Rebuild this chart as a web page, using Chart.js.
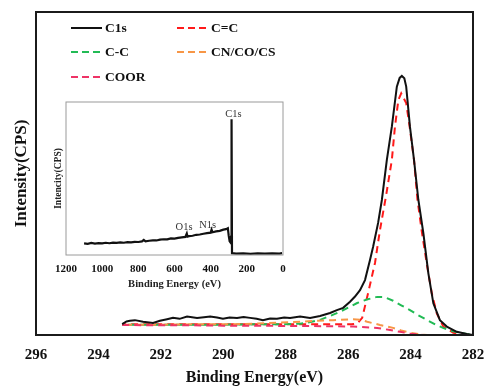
<!DOCTYPE html>
<html>
<head>
<meta charset="utf-8">
<script src="https://cdn.jsdelivr.net/npm/chart.js@4/dist/chart.umd.min.js"></script>
<style>
html,body{margin:0;padding:0;background:#fff}
#wrap{position:relative;width:488px;height:387px;overflow:hidden}
#main{position:absolute;left:0;top:0;width:488px;height:387px}
#inset{position:absolute;left:40px;top:95px;width:250px;height:200px}
#legend{position:absolute;left:0;top:0;font:bold 13.5px "Liberation Serif",serif;color:#111}
.li{position:absolute;display:flex;align-items:center;height:20px;white-space:nowrap}
.li svg{margin-right:2px}
</style>
</head>
<body>
<div id="wrap">
  <canvas id="main" width="488" height="387"></canvas>
  <canvas id="inset" width="250" height="200"></canvas>
  <div id="legend"></div>
</div>
<script>
// main C1s high-resolution spectrum, [binding energy, intensity]
const C1S = [[293.24,3.4],[293.10,4.2],[292.99,4.4],[292.83,4.6],[292.57,4.1],[292.25,3.7],[292.03,4.4],[291.80,4.9],[291.61,5.3],[291.40,5.0],[291.16,5.7],[290.84,5.3],[290.62,5.5],[290.42,5.7],[290.20,5.4],[290.01,5.0],[289.80,5.4],[289.56,5.3],[289.35,5.6],[289.14,5.3],[288.93,5.0],[288.73,4.6],[288.50,5.1],[288.28,5.0],[288.05,5.4],[287.86,5.3],[287.54,5.7],[287.22,5.3],[286.90,5.9],[286.58,6.8],[286.36,7.7],[286.16,8.4],[285.94,10.3],[285.78,11.9],[285.62,13.9],[285.46,17.0],[285.30,23.2],[285.20,27.3],[285.04,34.7],[284.92,41.8],[284.76,54.2],[284.60,64.5],[284.44,76.9],[284.35,79.6],[284.28,80.2],[284.20,79.5],[284.14,76.9],[284.02,64.5],[283.89,54.2],[283.75,41.8],[283.59,31.5],[283.43,19.1],[283.27,9.8],[283.06,4.6],[282.84,2.6],[282.52,1.0],[282.20,0.3],[282.00,0.0]];
const CC2 = [[293.24,3.3],[292.5,3.3],[291.5,3.3],[290.5,3.3],[289.5,3.3],[288.5,3.3],[287.5,3.3],[286.5,3.3],[285.90,3.3],[285.70,3.6],[285.55,5.3],[285.36,13.0],[285.14,22.3],[284.98,32.5],[284.78,43.4],[284.60,54.2],[284.50,64.5],[284.39,72.8],[284.30,74.8],[284.14,71.8],[284.03,64.5],[283.89,54.2],[283.78,42.0],[283.64,32.0],[283.48,22.0],[283.32,12.9],[283.16,6.7],[282.95,2.6],[282.63,0.7],[282.30,0.1],[282.00,0.0]];
const CC1 = [[293.24,3.2],[292,3.2],[291,3.2],[290,3.2],[289,3.3],[288.2,3.3],[287.54,3.5],[287.2,4.0],[286.90,4.7],[286.58,5.9],[286.26,7.2],[286.0,8.5],[285.71,9.9],[285.4,11.0],[285.07,11.8],[284.85,11.8],[284.56,10.6],[284.30,9.2],[284.02,7.7],[283.75,6.1],[283.47,4.6],[283.2,3.2],[282.96,2.2],[282.7,1.3],[282.41,0.7],[282.2,0.3],[282.0,0.1]];
const CNCO = [[293.24,3.2],[292,3.2],[291,3.3],[290,3.3],[289,3.5],[288.3,3.8],[287.54,4.1],[287.0,4.4],[286.48,4.6],[285.84,4.9],[285.6,4.7],[285.39,4.1],[284.98,3.1],[284.56,2.2],[284.3,1.4],[284.02,0.7],[283.7,0.2],[283.47,0],[282.0,0]];
const COOR = [[293.24,3.1],[292,3.0],[291,3.0],[290,2.9],[289,2.9],[288,2.8],[287.54,2.8],[286.5,2.7],[285.84,2.6],[285.07,2.2],[284.7,1.6],[284.34,1.0],[284.0,0.4],[283.60,0],[282.0,0]];
const X_TICKS = [282,284,286,288,290,292,294,296];

// survey spectrum for the inset
const SURVEY = [[1100,7.6],[1080,7.3],[1060,7.9],[1040,7.5],[1020,7.8],[1000,7.6],[980,8.0],[960,7.7],[940,8.1],[920,7.9],[900,8.2],[880,8.0],[860,8.4],[840,8.3],[820,8.6],[800,8.5],[780,8.9],[770,9.8],[760,8.9],[740,9.3],[720,9.6],[700,9.5],[680,10.0],[660,10.3],[640,10.2],[620,10.8],[600,10.7],[580,11.2],[560,11.5],[540,11.8],[532,14.0],[528,12.0],[520,12.3],[500,12.6],[480,13.2],[460,13.4],[440,13.9],[420,14.3],[400,14.6],[395,16.5],[390,14.9],[370,15.4],[350,15.8],[330,16.6],[315,16.9],[305,17.5],[300,12.5],[295,9.0],[290,8.2],[287,12.0],[284.5,88.7],[282,1.2],[260,0.9],[220,1.0],[180,0.8],[140,1.0],[100,0.9],[60,1.0],[20,0.9],[5,1.2]];
const SURVEY_TICKS = [0,200,400,600,800,1000,1200];
const PEAK_LABELS = ['C1s','O1s','N1s'];
const PEAK_LABEL_AT = [[274,92],[547,18],[417,19.6]];

const NAMES = ['C1s','C=C','C-C','CN/CO/CS','COOR'];
const COLORS = ['#111111','#ff1a1a','#22bb55','#f79646','#ee3366'];
const SERIES = [C1S, CC2, CC1, CNCO, COOR];

const serif = '"Liberation Serif", serif';

const framePlugin = {
  id: 'frame',
  afterDatasetsDraw(chart, args, opts) {
    const {ctx, chartArea: a} = chart;
    ctx.save();
    ctx.strokeStyle = opts.color;
    ctx.lineWidth = opts.width;
    ctx.strokeRect(a.left, a.top, a.right - a.left, a.bottom - a.top);
    ctx.restore();
  }
};

new Chart(document.getElementById('main'), {
  type: 'line',
  data: {
    datasets: SERIES.map((s, i) => ({
      label: NAMES[i],
      data: s.map(p => ({x: p[0], y: p[1]})),
      borderColor: COLORS[i],
      borderWidth: 2,
      borderDash: i === 0 ? [] : [7, 5],
      borderDashOffset: i * 3,
      pointRadius: 0,
      tension: 0,
      order: i === 0 ? 0 : 5 - i
    }))
  },
  options: {
    responsive: false, animation: false, devicePixelRatio: 1,
    layout: {padding: {top: 12, right: 15, left: 0, bottom: 0}},
    plugins: {legend: {display: false}, tooltip: {enabled: false}, frame: {color: '#1b1b1b', width: 2}},
    scales: {
      x: {
        type: 'linear', reverse: true, min: 282, max: 296,
        afterBuildTicks: s => { s.ticks = X_TICKS.map(v => ({value: v})); },
        afterFit: s => { s.height = 52; },
        grid: {display: false, drawTicks: false}, border: {display: false},
        ticks: {padding: 11, color: '#111', font: {family: serif, size: 15, weight: 'bold'}, callback: v => String(v)},
        title: {display: true, text: 'Binding Energy(eV)', color: '#111', padding: {top: 0, bottom: 0}, font: {family: serif, size: 16, weight: 'bold'}}
      },
      y: {
        min: 0, max: 100,
        afterFit: s => { s.width = 36; },
        grid: {display: false, drawTicks: false}, border: {display: false},
        ticks: {display: false},
        title: {display: true, text: 'Intensity(CPS)', color: '#111', padding: {top: 11, bottom: 0}, font: {family: serif, size: 17, weight: 'bold'}}
      }
    }
  },
  plugins: [framePlugin]
});

const peakLabels = {
  id: 'peakLabels',
  afterDatasetsDraw(chart) {
    const {ctx, scales: {x, y}} = chart;
    ctx.save();
    ctx.font = '10.5px ' + serif;
    ctx.fillStyle = '#333';
    ctx.textAlign = 'center';
    ctx.textBaseline = 'middle';
    PEAK_LABELS.forEach((t, i) => ctx.fillText(t, x.getPixelForValue(PEAK_LABEL_AT[i][0]), y.getPixelForValue(PEAK_LABEL_AT[i][1])));
    ctx.restore();
  }
};

new Chart(document.getElementById('inset'), {
  type: 'line',
  data: {datasets: [{data: SURVEY.map(p => ({x: p[0], y: p[1]})), borderColor: '#111', borderWidth: 2.2, pointRadius: 0, tension: 0}]},
  options: {
    responsive: false, animation: false, devicePixelRatio: 1,
    layout: {padding: {top: 7, right: 7, left: 0, bottom: 0}},
    plugins: {legend: {display: false}, tooltip: {enabled: false}, frame: {color: '#9a9a9a', width: 1}},
    scales: {
      x: {
        type: 'linear', reverse: true, min: 0, max: 1200,
        afterBuildTicks: s => { s.ticks = SURVEY_TICKS.map(v => ({value: v})); },
        afterFit: s => { s.height = 40; },
        grid: {display: false, drawTicks: false}, border: {display: false},
        ticks: {padding: 8, color: '#111', font: {family: serif, size: 11, weight: 'bold'}, callback: v => String(v)},
        title: {display: true, text: 'Binding Energy (eV)', color: '#222', padding: {top: 0, bottom: 4}, font: {family: serif, size: 10.5, weight: 'bold'}}
      },
      y: {
        min: 0, max: 100,
        afterFit: s => { s.width = 26; },
        grid: {display: false, drawTicks: false}, border: {display: false},
        ticks: {display: false},
        title: {display: true, text: 'Intencity(CPS)', color: '#222', padding: {top: 13, bottom: 0}, font: {family: serif, size: 9.5, weight: 'bold'}}
      }
    }
  },
  plugins: [framePlugin, peakLabels]
});

// legend laid out in two columns inside the plot, as in the figure
const LEG_COL = [71, 177];
const LEG_ROW = [28, 52, 77];
const legEl = document.getElementById('legend');
NAMES.forEach((n, i) => {
  const dash = i === 0 ? '' : 'stroke-dasharray="7 4"';
  legEl.innerHTML += `<div class="li" style="left:${LEG_COL[i % 2]}px;top:${LEG_ROW[Math.floor(i / 2)] - 10}px">
    <svg width="32" height="6"><line x1="0" y1="3" x2="31" y2="3" stroke="${COLORS[i]}" stroke-width="2" ${dash}/></svg>${n}</div>`;
});
</script>
</body>
</html>
